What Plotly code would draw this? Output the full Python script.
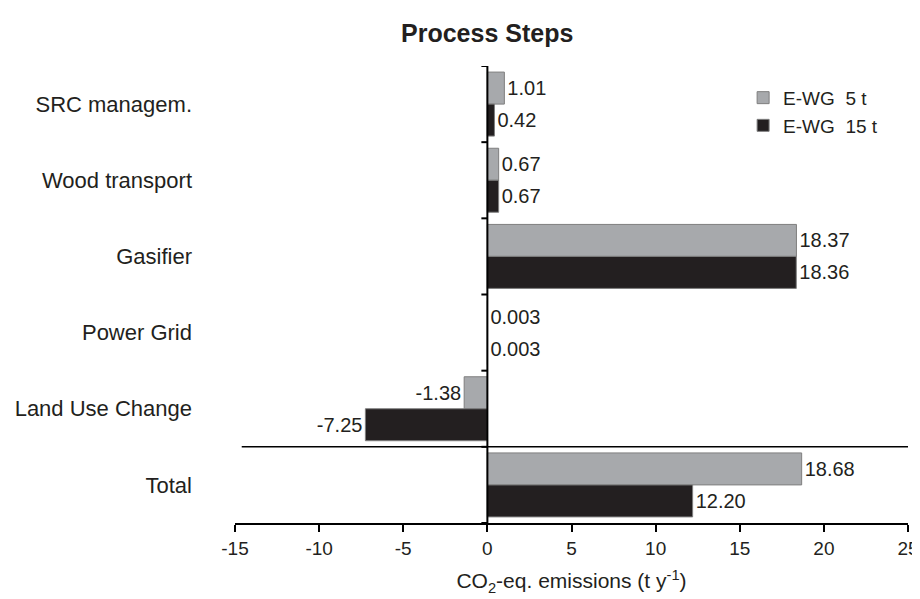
import plotly.graph_objects as go

categories = ["SRC managem.", "Wood transport", "Gasifier", "Power Grid", "Land Use Change", "Total"]
series_names = ["E-WG\u00a0\u00a05 t", "E-WG\u00a0\u00a015 t"]
values_5t = [1.01, 0.67, 18.37, 0.003, -1.38, 18.68]
values_15t = [0.42, 0.67, 18.36, 0.003, -7.25, 12.20]
labels_5t = ["1.01", "0.67", "18.37", "0.003", "-1.38", "18.68"]
labels_15t = ["0.42", "0.67", "18.36", "0.003", "-7.25", "12.20"]
x_ticks = [-15, -10, -5, 0, 5, 10, 15, 20, 25]

TXT = "#231f20"
FONT = "Liberation Sans, Arial, sans-serif"
fig = go.Figure()
fig.add_trace(go.Bar(
    y=categories, x=values_5t, orientation="h", name=series_names[0],
    marker=dict(color="#a7a9ac", line=dict(color="#7f7f7f", width=1)),
    text=labels_5t, textposition="outside", constraintext="none",
    textfont=dict(size=20, color=TXT, family=FONT),
    cliponaxis=False,
))
fig.add_trace(go.Bar(
    y=categories, x=values_15t, orientation="h", name=series_names[1],
    marker=dict(color="#231f20", line=dict(color="#7f7f7f", width=1)),
    text=labels_15t, textposition="outside", constraintext="none",
    textfont=dict(size=20, color=TXT, family=FONT),
    cliponaxis=False,
))

shapes = []
# vertical zero axis line
shapes.append(dict(type="line", xref="x", yref="y", x0=0, x1=0, y0=-0.5, y1=5.5,
                   line=dict(color="black", width=2)))
# category boundary ticks on zero line
for i in range(len(categories) + 1):
    b = i - 0.5
    shapes.append(dict(type="line", xref="x", yref="y", xsizemode="pixel", xanchor=0,
                       x0=-6, x1=0, y0=b, y1=b, line=dict(color="black", width=2)))
# separator above Total
shapes.append(dict(type="line", xref="x", yref="y", x0=-14.6, x1=25,
                   y0=len(categories) - 1.5, y1=len(categories) - 1.5,
                   line=dict(color="black", width=1.5)))

fig.update_layout(
    width=920, height=599,
    margin=dict(l=227, r=20, t=58, b=84, autoexpand=False),
    paper_bgcolor="white", plot_bgcolor="white",
    font=dict(family=FONT, color=TXT, size=20),
    barmode="group", bargap=0.16, bargroupgap=0,
    showlegend=True,
    legend=dict(x=0.755, y=0.972, xanchor="left", yanchor="top",
                font=dict(size=19, color=TXT), itemwidth=30,
                bgcolor="rgba(0,0,0,0)", tracegroupgap=0),
    shapes=shapes,
    annotations=[dict(text="<b>Process Steps</b>", x=0, xref="x", y=1, yref="paper",
                      yshift=33, showarrow=False, xanchor="center", yanchor="middle",
                      font=dict(size=25, color=TXT))],
    xaxis=dict(range=[-15, 25], tickvals=x_ticks, ticktext=[str(v) for v in x_ticks],
               ticks="outside", ticklen=7, tickwidth=2, tickcolor="black",
               showline=True, linewidth=2, linecolor="black",
               showgrid=False, zeroline=False, automargin=False,
               tickfont=dict(size=19, color=TXT),
               title=dict(text="CO<sub>2</sub>-eq. emissions (t y<sup>-1</sup>)",
                          font=dict(size=21, color=TXT), standoff=16)),
    yaxis=dict(type="category", categoryorder="array", categoryarray=categories,
               range=[len(categories) - 0.5, -0.5], automargin=False,
               showline=False, ticks="", showgrid=False, zeroline=False,
               ticklabelstandoff=42, tickfont=dict(size=22, color=TXT)),
)

fig.write_html("out.html")
